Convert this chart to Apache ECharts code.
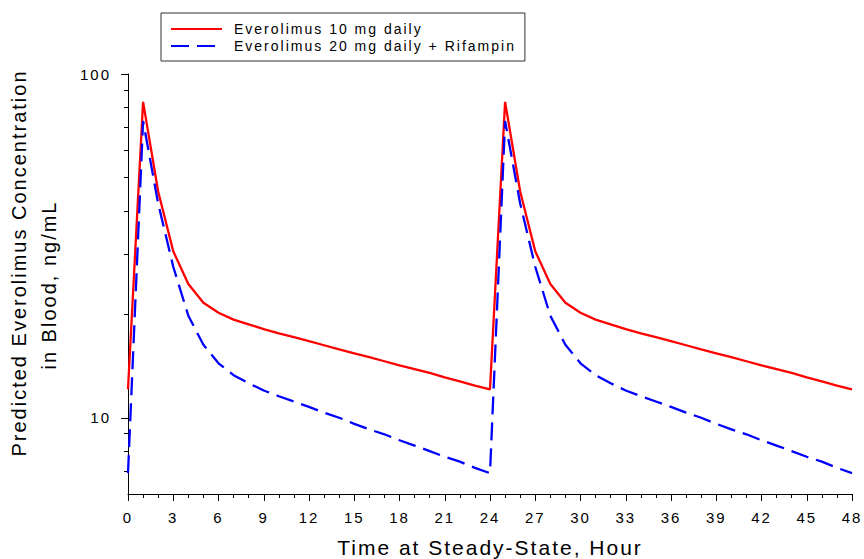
<!DOCTYPE html>
<html>
<head>
<meta charset="utf-8">
<title>Predicted Everolimus Concentration</title>
<script src="https://cdn.jsdelivr.net/npm/echarts@6/dist/echarts.min.js"></script>
<style>
  html, body { margin: 0; padding: 0; background: #ffffff; }
  #main { width: 864px; height: 559px; }
  /* the typeset labels of this figure are loosely tracked */
  #main text { letter-spacing: 2px; }
</style>
</head>
<body>
<div id="main"></div>
<script>
// Time after dose at steady state (hours)
const hours = [0, 1, 2, 3, 4, 5, 6, 7, 8, 9, 10, 11, 12, 13, 14, 15, 16, 17, 18, 19, 20, 21, 22, 23, 24,
               25, 26, 27, 28, 29, 30, 31, 32, 33, 34, 35, 36, 37, 38, 39, 40, 41, 42, 43, 44, 45, 46, 47, 48];

// Everolimus 10 mg daily (ng/mL)
const conc10mg = [12.1, 83, 45.5, 30.5, 24.5, 21.6, 20.2, 19.3, 18.7, 18.1, 17.6, 17.15, 16.7, 16.25, 15.8, 15.4,
                  15.0, 14.6, 14.2, 13.85, 13.5, 13.1, 12.75, 12.4, 12.1,
                  83, 45.5, 30.5, 24.5, 21.6, 20.2, 19.3, 18.7, 18.1, 17.6, 17.15, 16.7, 16.25, 15.8, 15.4,
                  15.0, 14.6, 14.2, 13.85, 13.5, 13.1, 12.75, 12.4, 12.1];

// Everolimus 20 mg daily + Rifampin (ng/mL)
const conc20mgRif = [6.9, 73, 42, 27.5, 19.8, 16.3, 14.4, 13.3, 12.6, 12.0, 11.55, 11.15, 10.75, 10.35, 10.0, 9.6,
                     9.25, 8.95, 8.6, 8.3, 8.0, 7.7, 7.45, 7.15, 6.9,
                     73, 42, 27.5, 19.8, 16.3, 14.4, 13.3, 12.6, 12.0, 11.55, 11.15, 10.75, 10.35, 10.0, 9.6,
                     9.25, 8.95, 8.6, 8.3, 8.0, 7.7, 7.45, 7.15, 6.9];

const seriesNames = ['Everolimus 10 mg daily', 'Everolimus 20 mg daily + Rifampin'];

// Log axis: labelled decades and unlabelled minor ticks
const yMajorTicks = [10, 100];
const yMinorTicks = [7, 8, 9, 20, 30, 40, 50, 60, 70, 80, 90];

const yTitleLines = ['Predicted Everolimus Concentration', 'in Blood, ng/mL'];
const xTitle = 'Time at Steady-State, Hour';

const FONT = "'Liberation Sans', Arial, Helvetica, sans-serif";

const chart = echarts.init(document.getElementById('main'), null, { renderer: 'svg' });

const pairs = (ys) => hours.map((h, i) => [h, ys[i]]);

chart.setOption({
  animation: false,
  backgroundColor: '#ffffff',
  textStyle: { fontFamily: FONT },
  grid: { left: 128, right: 12, top: 74, bottom: 65, containLabel: false, outerBoundsMode: 'none' },
  legend: {
    orient: 'vertical',
    left: 161,
    top: 13,
    padding: [9, 75, 8, 9],
    itemWidth: 51,
    itemHeight: 16,
    itemGap: 3,
    borderColor: '#333333',
    borderWidth: 1,
    backgroundColor: '#ffffff',
    itemStyle: { opacity: 0 },
    textStyle: { fontSize: 14, fontFamily: FONT, color: '#000000', padding: [0, 0, 0, 7] },
    data: seriesNames
  },
  xAxis: {
    type: 'value',
    min: 0,
    max: 48,
    interval: 3,
    name: xTitle,
    nameLocation: 'middle',
    nameGap: 42,
    nameTextStyle: { fontSize: 21, fontFamily: FONT, color: '#000000', lineHeight: 22 },
    axisLine: { show: true, onZero: false, lineStyle: { color: '#000000', width: 1 } },
    axisTick: { show: true, length: 7, lineStyle: { color: '#000000', width: 1 } },
    minorTick: { show: true, splitNumber: 3, length: 4, lineStyle: { color: '#000000', width: 1 } },
    axisLabel: { fontSize: 15, fontFamily: FONT, color: '#000000', margin: 16 },
    splitLine: { show: false },
    minorSplitLine: { show: false }
  },
  yAxis: {
    type: 'log',
    logBase: 10,
    min: 6,
    max: 100,
    axisLine: { show: true, lineStyle: { color: '#000000', width: 1 } },
    axisTick: { show: false },
    axisLabel: {
      fontSize: 15, fontFamily: FONT, color: '#000000', margin: 17,
      showMinLabel: false,
      formatter: (v) => (yMajorTicks.some(t => Math.abs(t - v) < 1e-6) ? String(Math.round(v)) : '')
    },
    splitLine: { show: false }
  },
  series: [
    {
      name: seriesNames[0],
      type: 'line',
      data: pairs(conc10mg),
      symbol: 'none',
      color: '#ff0000',
      lineStyle: { color: '#ff0000', width: 2.3, type: 'solid' },
      z: 2
    },
    {
      name: seriesNames[1],
      type: 'line',
      data: pairs(conc20mgRif),
      symbol: 'none',
      color: '#0000ff',
      lineStyle: { color: '#0000ff', width: 2.3, type: [18, 8] },
      z: 3
    }
  ]
});

// Y-axis ticks placed through the log axis, plus the two-line rotated axis title
const xAt0 = chart.convertToPixel({ xAxisIndex: 0 }, 0);
const crisp = (v) => Math.round(v) + 0.5;
const tickLine = (value, len) => {
  const y = crisp(chart.convertToPixel({ yAxisIndex: 0 }, value));
  return {
    type: 'line',
    silent: true,
    shape: { x1: xAt0 - len, y1: y, x2: xAt0, y2: y },
    style: { stroke: '#000000', lineWidth: 1 }
  };
};

const graphics = [];
yMajorTicks.forEach(v => graphics.push(tickLine(v, 7)));
yMinorTicks.forEach(v => graphics.push(tickLine(v, 4)));

graphics.push({
  type: 'text',
  x: 19,
  y: 456.5,
  rotation: Math.PI / 2,
  silent: true,
  style: { text: yTitleLines[0], fontSize: 20, fontFamily: FONT, fill: '#000000', align: 'left', verticalAlign: 'middle' }
});
graphics.push({
  type: 'text',
  x: 49,
  y: 369.5,
  rotation: Math.PI / 2,
  silent: true,
  style: { text: yTitleLines[1], fontSize: 20, fontFamily: FONT, fill: '#000000', align: 'left', verticalAlign: 'middle' }
});

chart.setOption({ graphic: graphics });
</script>
</body>
</html>
